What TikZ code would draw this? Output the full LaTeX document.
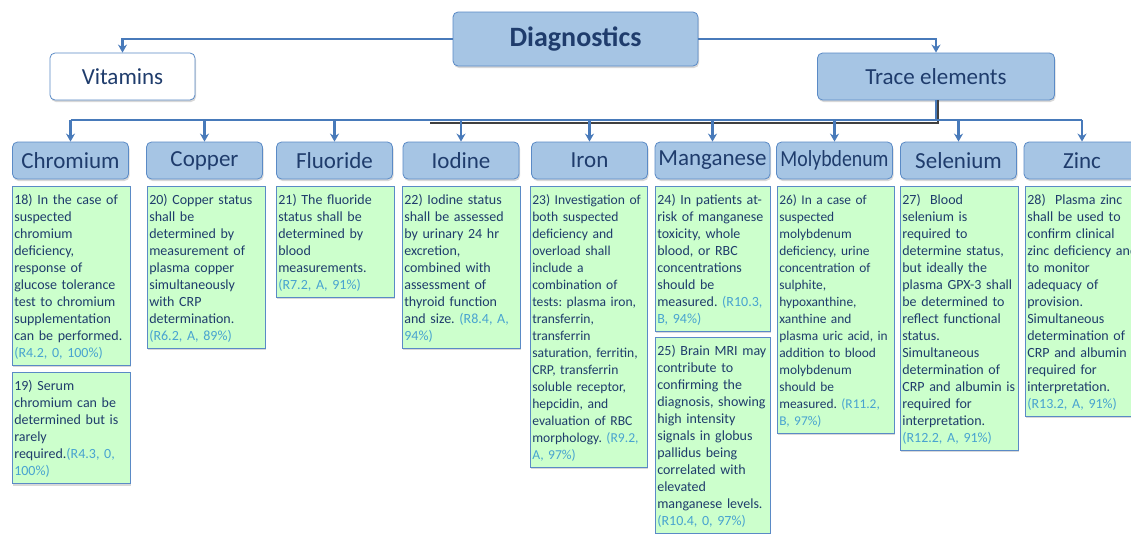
\documentclass[tikz,border=0pt]{standalone}
\usepackage{fontspec}
\setmainfont{Carlito}
\usepackage{graphicx}
\usetikzlibrary{arrows.meta,shadows}

\definecolor{navy}{RGB}{31,60,108}
\definecolor{hdfill}{RGB}{166,197,228}
\definecolor{hdline}{RGB}{90,138,198}
\definecolor{recfill}{RGB}{204,255,204}
\definecolor{wirecol}{RGB}{72,122,186}
\definecolor{gradecol}{RGB}{72,163,208}

\newcommand{\grade}[1]{{\color{gradecol}#1}}
\frenchspacing

\begin{document}
\begin{tikzpicture}[x=1pt,y=-1pt,
    hd/.style={draw=hdline,fill=hdfill,line width=0.8pt,rounded corners=5pt,text=navy,inner sep=0pt,
               drop shadow={shadow xshift=1pt,shadow yshift=-2pt,opacity=0.3}},
    elem/.style={hd,minimum width=116pt,minimum height=37pt,font=\fontsize{23}{27}\selectfont},
    rec/.style={draw=hdline,fill=recfill,line width=0.6pt,text=navy,anchor=north west,align=left,
                text width=114pt,inner xsep=2pt,inner ysep=4pt,font=\fontsize{14}{17}\selectfont\frenchspacing,
                execute at begin node=\rule{0pt}{13.8pt},
                execute at end node=\rule[-4pt]{0pt}{4pt},
                drop shadow={shadow xshift=1pt,shadow yshift=-2pt,opacity=0.3}},
    wire/.style={draw=wirecol,line width=2.6pt,-{Stealth[length=8pt,width=9pt]}}]
  \useasboundingbox (0,0) rectangle (1131,533);
  \fill[white] (0,0) rectangle (1131,533);
  \clip (0,0) rectangle (1131,533);

  % top level
  \node[hd,minimum width=245pt,minimum height=54pt,font=\bfseries\fontsize{28}{32}\selectfont] (diag) at (575.5,39) {Diagnostics};
  \node[hd,fill=white,minimum width=145pt,minimum height=47pt,font=\fontsize{23}{27}\selectfont] (vit) at (122.5,76.5) {Vitamins};
  \node[hd,minimum width=237pt,minimum height=47pt,font=\fontsize{23}{27}\selectfont] (trace) at (936,76.5) {Trace elements};

  % elements
  \node[elem] (chro) at (70.5,160.5) {Chromium};
  \node[elem] (copp) at (204.5,160.5) {Copper};
  \node[elem] (fluo) at (334.5,160.5) {Fluoride};
  \node[elem] (iodi) at (461,160.5) {Iodine};
  \node[elem] (iron) at (589.5,160.5) {Iron};
  \node[elem,minimum width=115pt] (mang) at (712.5,160.5) {Manganese};
  \node[elem] (moly) at (834.5,160.5) {\scalebox{0.86}[1]{Molybdenum}};
  \node[elem] (sele) at (958.5,160.5) {Selenium};
  \node[elem] (zinc) at (1082,160.5) {Zinc};

  % connectors
  \coordinate (bus) at (936,120);
  \coordinate (shadowend) at (430,122.5);
  \draw[black!75,line width=2pt] (938,100) |- (shadowend);
  \draw[wire] (diag.west) -| (vit.north);
  \draw[wire] (diag.east) -| (trace.north);
  \draw[wire,-] (trace.south) -- (bus);
  \draw[wire,-] (chro.north |- bus) -- (zinc.north |- bus);
  \foreach \n in {chro,copp,fluo,iodi,iron,mang,moly,sele,zinc}
    \draw[wire] (\n.north |- bus) -- (\n.north);

  % recommendations
  \node[rec] (r18) at (12,186) {18) In the case of\\ suspected\\ chromium\\ deficiency,\\ response of\\ glucose tolerance\\ test to chromium\\ supplementation\\ can be performed.\\ \grade{(R4.2, 0, 100\%)}};
  \node[rec] (r19) at ([yshift=-7pt]r18.south west) {19) Serum\\ chromium can be\\ determined but is\\ rarely\\ required.\grade{(R4.3, 0,}\\ \grade{100\%)}};
  \node[rec] (r20) at (147,186) {20) Copper status\\ shall be\\ determined by\\ measurement of\\ plasma copper\\ simultaneously\\ with CRP\\ determination.\\ \grade{(R6.2, A, 89\%)}};
  \node[rec] (r21) at (276,186) {21) The fluoride\\ status shall be\\ determined by\\ blood\\ measurements.\\ \grade{(R7.2, A, 91\%)}};
  \node[rec] (r22) at (402,186) {22) Iodine status\\ shall be assessed\\ by urinary 24 hr\\ excretion,\\ combined with\\ assessment of\\ thyroid function\\ and size. \grade{(R8.4, A,}\\ \grade{94\%)}};
  \node[rec,text width=113pt,font=\fontsize{13.6}{17}\selectfont] (r23) at (530,186) {23) Investigation of\\ both suspected\\ deficiency and\\ overload shall\\ include a\\ combination of\\ tests: plasma iron,\\ transferrin,\\ transferrin\\ saturation, ferritin,\\ CRP, transferrin\\ soluble receptor,\\ hepcidin, and\\ evaluation of RBC\\ morphology. \grade{(R9.2,}\\ \grade{A, 97\%)}};
  \node[rec,text width=111pt] (r24) at (655,186) {24) In patients at-\\ risk of manganese\\ toxicity, whole\\ blood, or RBC\\ concentrations\\ should be\\ measured. \grade{(R10.3,}\\ \grade{B, 94\%)}};
  \node[rec,text width=111pt] (r25) at ([yshift=-6pt]r24.south west) {25) Brain MRI may\\ contribute to\\ confirming the\\ diagnosis, showing\\ high intensity\\ signals in globus\\ pallidus being\\ correlated with\\ elevated\\ manganese levels.\\ \grade{(R10.4, 0, 97\%)}};
  \node[rec,text width=113pt,font=\fontsize{13.4}{17}\selectfont] (r26) at (777,186) {26) In a case of\\ suspected\\ molybdenum\\ deficiency, urine\\ concentration of\\ sulphite,\\ hypoxanthine,\\ xanthine and\\ plasma uric acid, in\\ addition to blood\\ molybdenum\\ should be\\ measured. \grade{(R11.2,}\\ \grade{B, 97\%)}};
  \node[rec] (r27) at (900,186) {27)~ Blood\\ selenium is\\ required to\\ determine status,\\ but ideally the\\ plasma GPX-3 shall\\ be determined to\\ reflect functional\\ status.\\ Simultaneous\\ determination of\\ CRP and albumin is\\ required for\\ interpretation.\\ \grade{(R12.2, A, 91\%)}};
  \node[rec,text width=140pt] (r28) at (1025,186) {28)~ Plasma zinc\\ shall be used to\\ confirm clinical\\ zinc deficiency and\\ to monitor\\ adequacy of\\ provision.\\ Simultaneous\\ determination of\\ CRP and albumin is\\ required for\\ interpretation.\\ \grade{(R13.2, A, 91\%)}};
\end{tikzpicture}
\end{document}
